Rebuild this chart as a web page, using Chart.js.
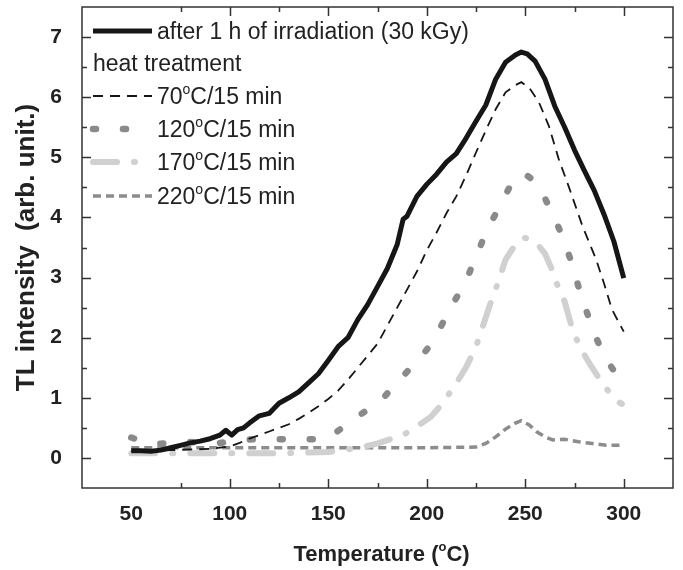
<!DOCTYPE html>
<html>
<head>
<meta charset="utf-8">
<script src="https://cdn.jsdelivr.net/npm/chart.js@4.4.1/dist/chart.umd.min.js"></script>
<style>
  html, body { margin: 0; padding: 0; background: #fff; }
</style>
</head>
<body>
<canvas id="tl" width="683" height="570"></canvas>
<script>
// TL glow curves
const irrT = [50,55,60,65,70,75,80,85,90,95,98,101,104,107,110,115,120,125,130,135,140,145,150,155,160,165,170,175,180,185,188,190,195,200,205,210,215,220,225,230,235,240,245,248,251,255,260,265,270,275,280,285,290,295,300];
const irrV = [0.12,0.12,0.11,0.13,0.17,0.21,0.25,0.28,0.32,0.38,0.46,0.38,0.47,0.50,0.58,0.70,0.74,0.91,1.00,1.10,1.25,1.40,1.62,1.85,2.00,2.30,2.55,2.85,3.15,3.55,3.97,4.02,4.35,4.55,4.72,4.92,5.06,5.32,5.60,5.87,6.30,6.58,6.70,6.75,6.72,6.60,6.30,5.85,5.50,5.12,4.78,4.45,4.05,3.60,2.99];

const h70T = [50,60,70,80,90,100,105,110,115,120,125,130,135,140,145,150,155,160,165,170,175,180,185,190,195,200,205,210,215,220,225,230,235,240,245,248,252,257,262,267,272,279,286,290,294,300];
const h70V = [0.12,0.12,0.13,0.14,0.15,0.19,0.25,0.32,0.38,0.44,0.50,0.56,0.65,0.75,0.86,0.98,1.12,1.30,1.50,1.70,1.90,2.20,2.50,2.80,3.10,3.45,3.75,4.07,4.35,4.70,5.08,5.45,5.80,6.08,6.20,6.25,6.16,5.91,5.52,4.97,4.52,3.86,3.30,2.90,2.47,2.10];

const h120T = [50,56,63,70,78,85,92,99,106,112,119,126,134,141,148,155,162,169,176,182,188,194,200,205,209,213,217,221,224,227,230,234,238,242,246,250,254,258,261,265,268,271,274,277,281,285,289,293,297];
const h120V = [0.34,0.27,0.23,0.25,0.27,0.25,0.23,0.27,0.30,0.31,0.31,0.31,0.31,0.31,0.31,0.45,0.63,0.78,0.92,1.15,1.36,1.58,1.80,2.05,2.30,2.55,2.77,3.03,3.27,3.50,3.76,4.00,4.25,4.50,4.70,4.72,4.62,4.47,4.25,3.98,3.75,3.49,3.20,2.85,2.45,2.07,1.78,1.55,1.35];

const h170T = [50,60,70,80,90,100,110,120,130,140,150,160,165,170,176,183,189,197,202,206,211,215,220,225,229,232,236,240,246,250,255,260,264,266,270,274,278,283,287,291,297,299];
const h170V = [0.08,0.08,0.08,0.08,0.08,0.08,0.08,0.08,0.08,0.09,0.10,0.14,0.17,0.20,0.25,0.33,0.40,0.57,0.68,0.83,1.05,1.24,1.51,1.85,2.24,2.54,2.90,3.30,3.60,3.66,3.60,3.40,3.10,2.90,2.60,2.13,1.83,1.55,1.35,1.16,0.94,0.90];

const h220T = [50,100,150,200,225,230,235,240,245,248,252,256,260,264,270,277,284,291,298];
const h220V = [0.17,0.17,0.17,0.17,0.18,0.24,0.35,0.48,0.58,0.62,0.55,0.43,0.35,0.30,0.31,0.27,0.24,0.21,0.21];

const seriesLabels = ['after 1 h of irradiation (30 kGy)', '70°C/15 min', '120°C/15 min', '170°C/15 min', '220°C/15 min'];
const legendHeading = 'heat treatment';
const xTickLabels = [50, 100, 150, 200, 250, 300];
const yTickLabels = [0, 1, 2, 3, 4, 5, 6, 7];
const xTitle = 'Temperature (°C)';
const yTitle = 'TL intensity  (arb. unit.)';

const FONT = '"Liberation Sans", Arial, Helvetica, sans-serif';

function pts(t, v) {
  return t.map((x, i) => ({ x: x, y: v[i] }));
}

// splits '°' into a raised small "o", like the printed figure
function drawRich(ctx, text, x, y, size, weight, align) {
  const runs = [];
  text.split('°').forEach((b, i) => {
    if (i > 0) runs.push({ t: 'o', sup: true });
    if (b) runs.push({ t: b, sup: false });
  });
  const fBase = weight + ' ' + size + 'px ' + FONT;
  const fSup = weight + ' ' + Math.round(size * 0.6) + 'px ' + FONT;
  let w = 0;
  runs.forEach(r => { ctx.font = r.sup ? fSup : fBase; r.w = ctx.measureText(r.t).width; w += r.w; });
  let cx = align === 'center' ? x - w / 2 : x;
  ctx.textAlign = 'left';
  ctx.textBaseline = 'alphabetic';
  runs.forEach(r => {
    ctx.font = r.sup ? fSup : fBase;
    ctx.fillText(r.t, cx, r.sup ? y - size * 0.45 : y);
    cx += r.w;
  });
}

// frame with inward ticks on all sides, legend and axis titles
const decor = {
  id: 'decor',
  afterDraw(chart) {
    const { ctx, chartArea: a, scales: { x, y } } = chart;
    ctx.save();
    ctx.strokeStyle = '#333';
    ctx.lineWidth = 1.5;
    ctx.setLineDash([]);
    ctx.strokeRect(a.left, a.top, a.right - a.left, a.bottom - a.top);

    ctx.beginPath();
    for (let v = 75; v <= 300; v += 25) {
      const px = Math.round(x.getPixelForValue(v)) + 0.5;
      const len = v % 50 === 0 ? 9 : 5;
      ctx.moveTo(px, a.bottom); ctx.lineTo(px, a.bottom - len);
      ctx.moveTo(px, a.top); ctx.lineTo(px, a.top + len);
    }
    for (let v = 0; v <= 7; v += 0.5) {
      const py = Math.round(y.getPixelForValue(v)) + 0.5;
      const len = Number.isInteger(v) ? 9 : 5;
      ctx.moveTo(a.left, py); ctx.lineTo(a.left + len, py);
      ctx.moveTo(a.right, py); ctx.lineTo(a.right - len, py);
    }
    ctx.stroke();

    // legend
    ctx.fillStyle = '#222';
    const rowY = [31, 96, 129, 162, 196];
    const x0 = 93, x1 = 152, tx = 157;
    chart.data.datasets.forEach((ds, i) => {
      ctx.save();
      ctx.strokeStyle = ds.borderColor;
      ctx.lineWidth = ds.borderWidth;
      ctx.lineCap = ds.borderCapStyle || 'butt';
      ctx.setLineDash(ds.borderDash || []);
      ctx.beginPath();
      ctx.moveTo(x0, rowY[i]);
      ctx.lineTo(x1, rowY[i]);
      ctx.stroke();
      ctx.restore();
      drawRich(ctx, ds.label, tx, rowY[i] + 8, 23, 'normal', 'left');
    });
    drawRich(ctx, legendHeading, x0, 71, 23, 'normal', 'left');

    // axis titles
    ctx.fillStyle = '#222';
    drawRich(ctx, xTitle, (a.left + a.right) / 2 + 4, 561, 22, 'bold', 'center');
    ctx.save();
    ctx.translate(34, (a.top + a.bottom) / 2);
    ctx.rotate(-Math.PI / 2);
    drawRich(ctx, yTitle, 0, 0, 26, 'bold', 'center');
    ctx.restore();
    ctx.restore();
  }
};

new Chart(document.getElementById('tl'), {
  type: 'line',
  data: {
    datasets: [
      { label: seriesLabels[0], data: pts(irrT, irrV), borderColor: '#161616', borderWidth: 5, borderJoinStyle: 'round' },
      { label: seriesLabels[1], data: pts(h70T, h70V), borderColor: '#161616', borderWidth: 1.8, borderDash: [10, 7] },
      { label: seriesLabels[2], data: pts(h120T, h120V), borderColor: '#8a8a8a', borderWidth: 6.5, borderDash: [3, 27], borderCapStyle: 'round' },
      { label: seriesLabels[3], data: pts(h170T, h170V), borderColor: '#d0d0d0', borderWidth: 6, borderDash: [24, 17, 1, 17], borderCapStyle: 'round' },
      { label: seriesLabels[4], data: pts(h220T, h220V), borderColor: '#8c8c8c', borderWidth: 3.5, borderDash: [8, 5] }
    ]
  },
  options: {
    responsive: false,
    devicePixelRatio: 1,
    animation: false,
    layout: { padding: { top: 7, right: 10, left: 0, bottom: 0 } },
    elements: { point: { radius: 0 }, line: { tension: 0 } },
    plugins: { legend: { display: false }, tooltip: { enabled: false } },
    scales: {
      x: {
        type: 'linear',
        min: 25, max: 325,
        grid: { display: false, drawTicks: false },
        border: { display: false },
        afterFit: s => { s.height = 82; s.paddingLeft = 0; s.paddingRight = 0; },
        ticks: {
          stepSize: 25,
          autoSkip: false,
          maxRotation: 0,
          padding: 14,
          color: '#222',
          font: { family: FONT, size: 21, weight: 'bold' },
          callback: v => xTickLabels.includes(v) ? String(v) : ''
        }
      },
      y: {
        min: -0.5, max: 7.5,
        grid: { display: false, drawTicks: false },
        border: { display: false },
        afterFit: s => { s.width = 82; s.paddingTop = 0; s.paddingBottom = 0; },
        ticks: {
          stepSize: 0.5,
          autoSkip: false,
          padding: 20,
          color: '#222',
          font: { family: FONT, size: 21, weight: 'bold' },
          callback: v => yTickLabels.includes(v) ? String(v) : ''
        }
      }
    }
  },
  plugins: [decor]
});
</script>
</body>
</html>
